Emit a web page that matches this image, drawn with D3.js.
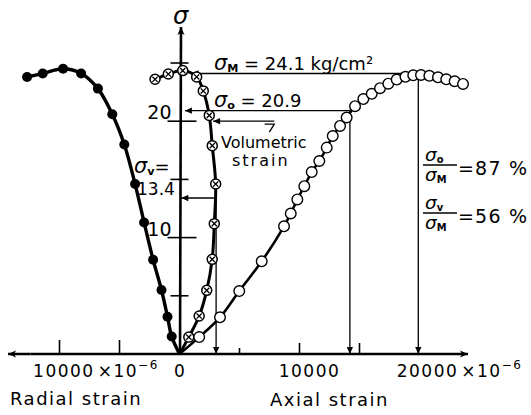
<!DOCTYPE html>
<html>
<head>
<meta charset="utf-8">
<script src="https://cdn.jsdelivr.net/npm/d3@7"></script>
<style>
  body { margin: 0; background: #fff; }
  svg text { font-family: "DejaVu Sans", sans-serif; fill: #000; }
</style>
</head>
<body>
<svg id="chart" width="531" height="415"></svg>
<script>
// stress in kg/cm2, strain in 1e-6 (radial plotted to the left)
const radialStrain = [650, 1000, 1500, 2200, 2950, 3700, 4600, 5600, 6800, 8200, 9700, 11400, 12700];
const radialStress = [1.5, 3.2, 5.5, 8.1, 11.3, 14.6, 18.0, 20.6, 22.8, 24.1, 24.5, 24.1, 23.8];

const volStrain = [775, 1640, 2270, 2725, 2900, 3015, 2730, 2480, 1980, 1430, 270, -930, -2040];
const volStress = [1.45, 3.26, 5.47, 8.13, 11.2, 14.6, 17.9, 20.5, 22.6, 23.8, 24.35, 24.05, 23.6];

const axialStrain = [1640, 3375, 4980, 6850, 8710, 9270, 9820, 10400, 11020, 11650, 12270, 12770, 13380,
  13930, 14630, 15320, 16020, 16710, 17400, 18100, 18830, 19480, 20125, 20820, 21540, 22230, 22930, 23625];
const axialStress = [1.45, 3.15, 5.41, 7.96, 10.97, 12.07, 13.28, 14.42, 15.63, 16.58, 17.73, 18.73, 19.59,
  20.32, 21.29, 21.9, 22.35, 22.84, 23.22, 23.58, 23.81, 23.94, 23.97, 23.9, 23.77, 23.6, 23.43, 23.2];

const yTicks = [5, 10, 15, 20, 25];
const yLabels = [10, 20];
const xTicksAxial = [5000, 10000, 15000];
const xTicksRadial = [5000, 10000];

// annotated values
const sigmaM = 24.1, sigma0 = 20.9, sigmaV = 13.4;
const strainAtM = 19900, strainAt0 = 14200, volMax = 3050;
const leaderStress = 20.0;

const svg = d3.select('#chart');
const x = d3.scaleLinear().domain([0, 20000]).range([179.5, 419.5]);
const y = d3.scaleLinear().domain([0, 25]).range([354, 63]);

// arrow markers
const defs = svg.append('defs');
defs.append('marker')
  .attr('id', 'arr').attr('viewBox', '0 0 10 10')
  .attr('refX', 10).attr('refY', 5)
  .attr('markerUnits', 'userSpaceOnUse')
  .attr('markerWidth', 9).attr('markerHeight', 7)
  .attr('orient', 'auto')
  .append('path').attr('d', 'M0,0.5 L10,5 L0,9.5 z').attr('fill', '#000');
defs.append('marker')
  .attr('id', 'axarr').attr('viewBox', '0 0 10 10')
  .attr('refX', 10).attr('refY', 5)
  .attr('markerUnits', 'userSpaceOnUse')
  .attr('markerWidth', 13).attr('markerHeight', 8)
  .attr('orient', 'auto')
  .append('path').attr('d', 'M0,0.5 L10,5 L0,9.5 L2.5,5 z').attr('fill', '#000');

// main axes
const x0 = x(0), y0 = y(0);
svg.append('line')
  .attr('x1', x(-12400)).attr('y1', y0).attr('x2', 8).attr('y2', y0)
  .attr('stroke', '#000').attr('stroke-width', 2.5).attr('marker-end', 'url(#axarr)');
svg.append('line')
  .attr('x1', x(-12400)).attr('y1', y0).attr('x2', 468).attr('y2', y0)
  .attr('stroke', '#000').attr('stroke-width', 2.5).attr('marker-end', 'url(#axarr)');
svg.append('line')
  .attr('x1', x0 + 0.5).attr('y1', y0).attr('x2', x0 + 1.5).attr('y2', 27)
  .attr('stroke', '#000').attr('stroke-width', 2.6).attr('marker-end', 'url(#axarr)');

// x ticks (upward)
const xt = svg.append('g').attr('stroke', '#000').attr('stroke-width', 1.6);
xTicksAxial.forEach(v => {
  xt.append('line').attr('x1', x(v)).attr('x2', x(v)).attr('y1', y0)
    .attr('y2', y0 - (v === 5000 ? 6 : 11));
});
xTicksRadial.forEach(v => {
  xt.append('line').attr('x1', x(-v)).attr('x2', x(-v)).attr('y1', y0).attr('y2', y0 - 14);
});

// y ticks (crossing)
const yt = svg.append('g').attr('stroke', '#000').attr('stroke-width', 1.6);
yTicks.forEach(v => {
  const left = yLabels.includes(v) ? 12 : 9;
  const right = yLabels.includes(v) ? 17 : 9;
  yt.append('line').attr('x1', x0 - left).attr('x2', x0 + right).attr('y1', y(v)).attr('y2', y(v));
});
yLabels.forEach(v => {
  svg.append('text').attr('x', x0 - 8).attr('y', y(v) - 2)
    .attr('text-anchor', 'end').attr('font-size', 19).text(v);
});

// curves
const line = d3.line().x(d => x(d[0])).y(d => y(d[1])).curve(d3.curveCatmullRom.alpha(0.5));
const radial = [[0, 0]].concat(radialStrain.map((s, i) => [-s, radialStress[i]]));
const vol = [[0, 0]].concat(volStrain.map((s, i) => [s, volStress[i]]));
const axial = [[0, 0]].concat(axialStrain.map((s, i) => [s, axialStress[i]]));

// annotation lines
const ann = svg.append('g').attr('stroke', '#000').attr('stroke-width', 1.3).attr('fill', 'none');
ann.append('line').attr('x1', x(strainAtM)).attr('y1', y(sigmaM)).attr('x2', x(1000)).attr('y2', y(sigmaM))
  .attr('marker-end', 'url(#arr)');
ann.append('line').attr('x1', x(strainAtM)).attr('y1', y(sigmaM)).attr('x2', x(strainAtM)).attr('y2', y0)
  .attr('marker-end', 'url(#arr)');
ann.append('line').attr('x1', x(strainAt0)).attr('y1', y(sigma0)).attr('x2', x(450)).attr('y2', y(sigma0))
  .attr('marker-end', 'url(#arr)');
ann.append('line').attr('x1', x(strainAt0)).attr('y1', y(sigma0)).attr('x2', x(strainAt0)).attr('y2', y0)
  .attr('marker-end', 'url(#arr)');
ann.append('line').attr('x1', x(volMax)).attr('y1', y(sigmaV)).attr('x2', x(150)).attr('y2', y(sigmaV))
  .attr('marker-end', 'url(#arr)');
ann.append('line').attr('x1', x(volMax)).attr('y1', y(sigmaV)).attr('x2', x(volMax)).attr('y2', y0)
  .attr('marker-end', 'url(#arr)');
ann.append('line').attr('x1', x(7900)).attr('y1', y(leaderStress)).attr('x2', x(2800)).attr('y2', y(leaderStress))
  .attr('marker-end', 'url(#arr)');
ann.append('path')
  .attr('d', `M${x(7100)},${y(leaderStress) + 3}h${x(7900) - x(7100)}l-5,8`);

svg.append('path').attr('d', line(radial)).attr('fill', 'none').attr('stroke', '#000').attr('stroke-width', 3.4);
svg.append('path').attr('d', line(vol)).attr('fill', 'none').attr('stroke', '#000').attr('stroke-width', 3);
svg.append('path').attr('d', line(axial)).attr('fill', 'none').attr('stroke', '#000').attr('stroke-width', 2.6);

// markers
svg.append('g').selectAll('circle').data(radial.slice(1)).join('circle')
  .attr('cx', d => x(d[0])).attr('cy', d => y(d[1])).attr('r', 5).attr('fill', '#000');

const vg = svg.append('g').selectAll('g').data(vol.slice(1)).join('g')
  .attr('transform', d => `translate(${x(d[0])},${y(d[1])})`);
vg.append('circle').attr('r', 5).attr('fill', '#fff').attr('stroke', '#000').attr('stroke-width', 1.5);
vg.append('path').attr('d', 'M-2.6,-2.6L2.6,2.6M-2.6,2.6L2.6,-2.6').attr('stroke', '#000').attr('stroke-width', 1.3);

svg.append('g').selectAll('circle').data(axial.slice(1)).join('circle')
  .attr('cx', d => x(d[0])).attr('cy', d => y(d[1])).attr('r', 5.3)
  .attr('fill', '#fff').attr('stroke', '#000').attr('stroke-width', 1.4);

// text helpers
function sigma(g, xp, yp, sub, size) {
  const t = g.append('text').attr('x', xp).attr('y', yp).attr('font-size', size);
  t.append('tspan').attr('font-style', 'italic').attr('font-size', size * 1.15).text('σ');
  t.append('tspan').attr('font-size', size * 0.62).attr('font-weight', 'bold').attr('dy', 2).text(sub);
  return t;
}

// axis title sigma
svg.append('text').attr('x', x0 + 1).attr('y', 24).attr('text-anchor', 'middle')
  .attr('font-size', 24).attr('font-style', 'italic').text('σ');

// sigma M / sigma 0
const tM = sigma(svg, 214, y(sigmaM) - 3, 'M', 18);
tM.append('tspan').attr('dy', -2).text(' = 24.1 kg/cm²');
const t0 = sigma(svg, 214, y(sigma0) - 4, 'o', 18);
t0.append('tspan').attr('dy', -2).text(' = 20.9');

// sigma v
const tv = sigma(svg, 134, 173, 'v', 18);
tv.append('tspan').attr('dy', -2).text('=');
svg.append('text').attr('x', 137).attr('y', 195).attr('font-size', 17).text('13.4');

// volumetric strain label
svg.append('text').attr('x', 221).attr('y', 148).attr('font-size', 16).text('Volumetric');
svg.append('text').attr('x', 232).attr('y', 166).attr('font-size', 16).attr('letter-spacing', 2).text('strain');

// ratio fractions
function frac(yb, subTop, val) {
  sigma(svg, 425, yb - 5, subTop, 16);
  svg.append('line').attr('x1', 423).attr('x2', 457).attr('y1', yb - 1).attr('y2', yb - 1)
    .attr('stroke', '#000').attr('stroke-width', 1.3);
  sigma(svg, 425, yb + 15, 'M', 16);
  svg.append('text').attr('x', 458).attr('y', yb + 9).attr('font-size', 19)
    .attr('letter-spacing', 1.2).text('=' + val + ' %');
}
frac(166, 'o', 87);
frac(214, 'v', 56);

// x tick labels
svg.append('text').attr('x', x(-12200)).attr('y', 377).attr('font-size', 17).attr('letter-spacing', 1.5)
  .text('10000').append('tspan').attr('dx', 3).text('×10')
  .append('tspan').attr('font-size', 12).attr('dy', -8).text('−6');
svg.append('text').attr('x', x0).attr('y', 377).attr('font-size', 17).attr('text-anchor', 'middle').text('0');
svg.append('text').attr('x', x(10000) + 10).attr('y', 377).attr('font-size', 17).attr('text-anchor', 'middle')
  .attr('letter-spacing', 1.5).text('10000');
svg.append('text').attr('x', x(18100)).attr('y', 377).attr('font-size', 17).attr('letter-spacing', 1.5)
  .text('20000').append('tspan').attr('dx', 3).text('×10')
  .append('tspan').attr('font-size', 12).attr('dy', -8).text('−6');

// axis titles
svg.append('text').attr('x', 10).attr('y', 405).attr('font-size', 18).attr('letter-spacing', 1.5).text('Radial strain');
svg.append('text').attr('x', 270).attr('y', 406).attr('font-size', 18).attr('letter-spacing', 1.5).text('Axial strain');
</script>
</body>
</html>
